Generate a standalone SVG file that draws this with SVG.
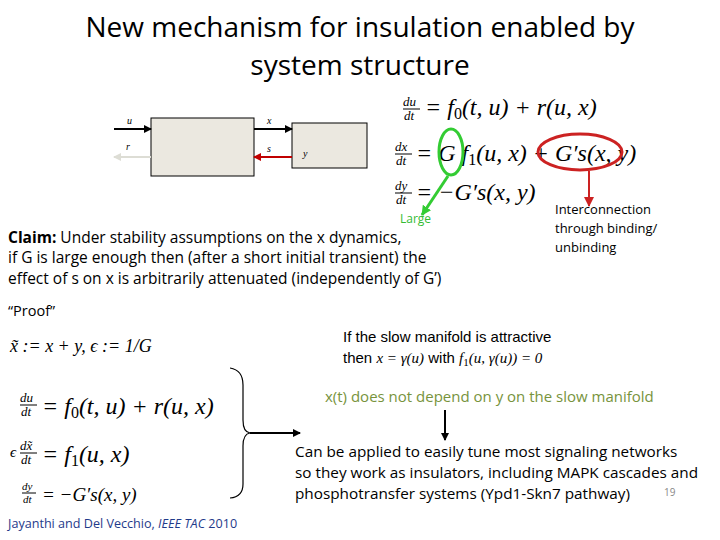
<svg xmlns="http://www.w3.org/2000/svg" width="720" height="540" viewBox="0 0 720 540">
<style>
.t{font-family:"Open Sans","Liberation Sans",sans-serif;fill:#000}
.m{font-family:"Liberation Serif",serif;font-style:italic;fill:#000}
.r{font-family:"Liberation Serif",serif;fill:#000}
.s{font-family:"Liberation Sans",sans-serif;fill:#000}
</style>
<defs>
<marker id="ab" markerWidth="8" markerHeight="8" refX="7" refY="4" orient="auto" markerUnits="userSpaceOnUse"><path d="M0,0L8,4L0,8z" fill="#000"/></marker>
<marker id="ar" markerWidth="8" markerHeight="8" refX="7" refY="4" orient="auto" markerUnits="userSpaceOnUse"><path d="M0,0L8,4L0,8z" fill="#c00000"/></marker>
<marker id="ag" markerWidth="8" markerHeight="8" refX="7" refY="4" orient="auto" markerUnits="userSpaceOnUse"><path d="M0,0L8,4L0,8z" fill="#ddddd5"/></marker>
<marker id="agr" markerWidth="10" markerHeight="10" refX="9" refY="5" orient="auto" markerUnits="userSpaceOnUse"><path d="M0,0L10,5L0,10z" fill="#33cc33"/></marker>
<marker id="ard" markerWidth="10" markerHeight="10" refX="9" refY="5" orient="auto" markerUnits="userSpaceOnUse"><path d="M0,0L10,5L0,10z" fill="#cc2222"/></marker>
</defs>
<rect width="720" height="540" fill="#fff"/>
<g id="title" class="t" font-size="28" text-anchor="middle">
<text x="360" y="37">New mechanism for insulation enabled by</text>
<text x="360" y="75">system structure</text>
</g>
<g id="block1"><rect x="151" y="118" width="103" height="58" fill="#ebe8e0" stroke="#000"/></g>
<g id="block2"><rect x="292" y="123" width="75" height="45" fill="#ebe8e0" stroke="#000"/><text class="m" x="303" y="157" font-size="10">y</text></g>
<g id="connectors" stroke-width="2" fill="none">
<line x1="114" y1="129" x2="151" y2="129" stroke="#000" marker-end="url(#ab)"/>
<line x1="254" y1="129" x2="292" y2="129" stroke="#000" marker-end="url(#ab)"/>
<line x1="292" y1="157" x2="254" y2="157" stroke="#c00000" marker-end="url(#ar)"/>
<line x1="151" y1="157" x2="114" y2="157" stroke="#ddddd5" marker-end="url(#ag)"/>
<line x1="448" y1="176" x2="422" y2="215" stroke="#33cc33" stroke-width="3" marker-end="url(#agr)"/>
<line x1="589" y1="171" x2="589" y2="206" stroke="#cc2222" stroke-width="2" marker-end="url(#ard)"/>
<line x1="250" y1="433" x2="300" y2="433" stroke="#000" marker-end="url(#ab)"/>
<line x1="445" y1="410" x2="445" y2="440" stroke="#000" marker-end="url(#ab)"/>
</g>
<g id="sig-labels" font-size="10">
<text class="m" x="127" y="124">u</text><text class="m" x="126" y="150" fill="#888">r</text>
<text class="m" x="267" y="124">x</text><text class="m" x="267" y="152" fill="#c00000">s</text>
</g>
<g id="eqs-top" font-size="24">
<text class="m" x="403" y="106" font-size="13">du</text><line x1="403" y1="109" x2="420" y2="109" stroke="#000"/><text class="m" x="404" y="120" font-size="13">dt</text>
<text class="m" x="425" y="115">= f<tspan class="r" font-size="16" dy="4" font-style="normal">0</tspan><tspan dy="-4">(t, u) + r(u, x)</tspan></text>
<text class="m" x="395" y="151" font-size="13">dx</text><line x1="395" y1="154" x2="412" y2="154" stroke="#000"/><text class="m" x="396" y="165" font-size="13">dt</text>
<text class="m" x="416" y="161">= G f<tspan class="r" font-size="16" dy="4" font-style="normal">1</tspan><tspan dy="-4">(u, x) + G′s(x, y)</tspan></text>
<text class="m" x="395" y="190" font-size="13">dy</text><line x1="395" y1="193" x2="412" y2="193" stroke="#000"/><text class="m" x="396" y="204" font-size="13">dt</text>
<text class="m" x="416" y="200">= −G′s(x, y)</text>
<ellipse cx="451" cy="152" rx="12" ry="23" fill="none" stroke="#33cc33" stroke-width="3"/>
<ellipse cx="580" cy="152" rx="42" ry="18" fill="none" stroke="#cc2222" stroke-width="3"/>
</g>
<text class="t" x="400" y="223" font-size="12" style="fill:#33bb33">Large</text>
<g id="interconnection" class="t" font-size="13">
<text x="555" y="214">Interconnection</text><text x="555" y="233">through binding/</text><text x="555" y="252">unbinding</text>
</g>
<g id="claim" class="t" font-size="15.5">
<text x="8" y="243"><tspan font-weight="bold">Claim:</tspan> Under stability assumptions on the x dynamics,</text>
<text x="8" y="263">if G is large enough then (after a short initial transient) the</text>
<text x="8" y="284">effect of s on x is arbitrarily attenuated (independently of G’)</text>
<text x="8" y="316" font-size="14.5">“Proof”</text>
</g>
<g id="eqs-bottom">
<text class="m" x="10" y="352" font-size="18">x̃ := x + y,  ϵ := 1/G</text>
<text class="m" x="20" y="402" font-size="13">du</text><line x1="20" y1="405" x2="37" y2="405" stroke="#000"/><text class="m" x="21" y="416" font-size="13">dt</text>
<text class="m" x="42" y="414" font-size="24">= f<tspan class="r" font-size="16" dy="4" font-style="normal">0</tspan><tspan dy="-4">(t, u) + r(u, x)</tspan></text>
<text class="m" x="10" y="457" font-size="15">ϵ</text>
<text class="m" x="20" y="450" font-size="13">dx̃</text><line x1="20" y1="453" x2="37" y2="453" stroke="#000"/><text class="m" x="21" y="464" font-size="13">dt</text>
<text class="m" x="42" y="462" font-size="24">= f<tspan class="r" font-size="16" dy="4" font-style="normal">1</tspan><tspan dy="-4">(u, x)</tspan></text>
<text class="m" x="22" y="490" font-size="11">dy</text><line x1="22" y1="493" x2="36" y2="493" stroke="#000"/><text class="m" x="23" y="503" font-size="11">dt</text>
<text class="m" x="42" y="501" font-size="19">= −G′s(x, y)</text>
<path d="M230,368 Q243,370 243,385 L243,420 Q243,432 250,433 Q243,434 243,446 L243,484 Q243,497 230,498" fill="none" stroke="#000" stroke-width="1.2"/>
</g>
<g id="manifold" class="s" font-size="15" fill="#333">
<text x="343" y="342">If the slow manifold is attractive</text>
<text x="343" y="363">then <tspan class="m" font-family="Liberation Serif">x = γ(u)</tspan> with <tspan class="m" font-family="Liberation Serif">f<tspan font-size="11" dy="3" font-style="normal">1</tspan><tspan dy="-3">(u, γ(u)) = 0</tspan></tspan></text>
</g>
<text class="t" x="325" y="402" font-size="15" style="fill:#77933c">x(t) does not depend on y on the slow manifold</text>
<g id="conclusion" class="t" font-size="15.3">
<text x="295" y="457">Can be applied to easily tune most signaling networks</text>
<text x="295" y="478">so they work as insulators, including MAPK cascades and</text>
<text x="295" y="499">phosphotransfer systems (Ypd1-Skn7 pathway)</text>
</g>
<text class="t" x="664" y="496" font-size="10" style="fill:#888">19</text>
<text class="t" x="8" y="528" font-size="12.6" style="fill:#1f3a8a">Jayanthi and Del Vecchio, <tspan font-style="italic">IEEE TAC</tspan> 2010</text>
</svg>
